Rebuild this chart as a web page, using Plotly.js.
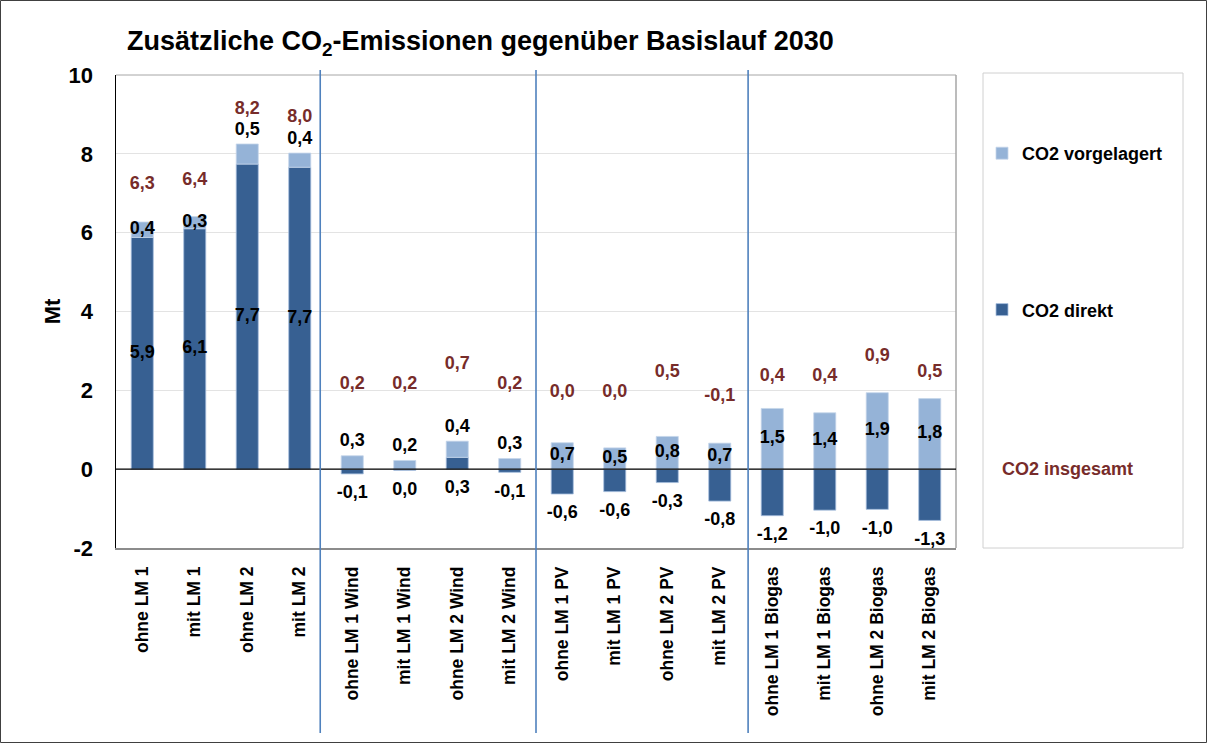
<!DOCTYPE html>
<html>
<head>
<meta charset="utf-8">
<script src="https://cdn.plot.ly/plotly-3.0.1.min.js"></script>
<style>html,body{margin:0;padding:0;background:#fff;}#chart{width:1207px;height:743px;}</style>
</head>
<body>
<div id="chart"></div>
<script>
// ---- data ----
const categories = [
  'ohne LM 1', 'mit LM 1', 'ohne LM 2', 'mit LM 2',
  'ohne LM 1 Wind', 'mit LM 1 Wind', 'ohne LM 2 Wind', 'mit LM 2 Wind',
  'ohne LM 1 PV', 'mit LM 1 PV', 'ohne LM 2 PV', 'mit LM 2 PV',
  'ohne LM 1 Biogas', 'mit LM 1 Biogas', 'ohne LM 2 Biogas', 'mit LM 2 Biogas'
];
const co2Direkt = [5.88, 6.10, 7.74, 7.66, -0.12, -0.03, 0.30, -0.08, -0.63, -0.57, -0.34, -0.81, -1.18, -1.04, -1.02, -1.30];
const co2Vorgelagert = [0.39, 0.31, 0.51, 0.36, 0.34, 0.22, 0.41, 0.27, 0.67, 0.54, 0.83, 0.66, 1.54, 1.43, 1.94, 1.79];
const co2Insgesamt = [6.3, 6.4, 8.2, 8.0, 0.2, 0.2, 0.7, 0.2, 0.0, 0.0, 0.5, -0.1, 0.4, 0.4, 0.9, 0.5];
const yTickValues = [-2, 0, 2, 4, 6, 8, 10];
const seriesNames = ['CO2 direkt', 'CO2 vorgelagert', 'CO2 insgesamt'];

// ---- label placement style (not data) ----
const direktLabelPlace = ['mid','mid','mid','mid','below','below','below','below','below','below','below','below','below','below','below','below'];
const vorgLabelPlace = ['mid','mid','above','above','above','above','above','above','mid','mid','mid','mid','mid','mid','mid','mid'];

const FONT = 'Liberation Sans, Arial, Helvetica, sans-serif';
const C_DIR = '#376092';
const C_VOR = '#95B3D7';
const C_TOT = '#772C2A';

function fmt(v) {
  const r = Math.abs(v) < 0.05 ? 0 : v;
  return r.toFixed(1).replace('.', ',');
}

const direktLabelY = co2Direkt.map((d, i) =>
  direktLabelPlace[i] === 'mid' ? d / 2 : Math.min(d, 0) - 0.5);
const vorgLabelY = co2Vorgelagert.map((v, i) => {
  const base = Math.max(co2Direkt[i], 0);
  return vorgLabelPlace[i] === 'mid' ? base + v / 2 : base + v + 0.35;
});
const totalLabelY = co2Insgesamt.map((t, i) => t + (i < 4 ? 0.92 : 1.95));

const labelFont = {family: FONT, size: 18, color: '#000000', weight: 'bold'};

const traces = [
  {
    type: 'bar', name: seriesNames[0], x: categories, y: co2Direkt,
    marker: {color: C_DIR, line: {color: '#A7BFDE', width: 0.8}},
    legendgroup: 'd', legendrank: 2, hoverinfo: 'skip'
  },
  {
    type: 'bar', name: seriesNames[1], x: categories, y: co2Vorgelagert,
    marker: {color: C_VOR, line: {color: '#C5D5EA', width: 0.8}},
    legendgroup: 'v', legendrank: 1, hoverinfo: 'skip'
  },
  {
    type: 'scatter', mode: 'text', x: categories, y: direktLabelY,
    text: co2Direkt.map(fmt), textposition: 'middle center',
    textfont: labelFont, showlegend: false, hoverinfo: 'skip', cliponaxis: false
  },
  {
    type: 'scatter', mode: 'text', x: categories, y: vorgLabelY,
    text: co2Vorgelagert.map(fmt), textposition: 'middle center',
    textfont: labelFont, showlegend: false, hoverinfo: 'skip', cliponaxis: false
  },
  {
    type: 'scatter', mode: 'text', name: seriesNames[2], x: categories, y: totalLabelY,
    text: co2Insgesamt.map(fmt), textposition: 'middle center',
    textfont: {family: FONT, size: 18, color: C_TOT, weight: 'bold'},
    showlegend: false, hoverinfo: 'skip', cliponaxis: false
  }
];

// geometry helpers for decorations
const L = 116, R = 251, T = 75, B = 195, W = 1207, H = 743;
const pw = W - L - R, ph = H - T - B;
const px2x = p => (p - L) / pw;
const py2y = p => (H - B - p) / ph;

const separators = [3.39, 7.5, 11.54];

const shapes = [
  // plot frame top/right
  {type: 'line', xref: 'paper', yref: 'paper', x0: 0, x1: 1, y0: 1, y1: 1, line: {color: '#A6A6A6', width: 1}},
  {type: 'line', xref: 'paper', yref: 'paper', x0: 1, x1: 1, y0: 0, y1: 1, line: {color: '#A6A6A6', width: 1.5}},
  // zero line
  {type: 'line', xref: 'paper', yref: 'y', x0: 0, x1: 1, y0: 0, y1: 0, line: {color: '#000000', width: 1.2}},
  // legend box
  {type: 'rect', xref: 'paper', yref: 'paper', x0: px2x(983), x1: px2x(1183), y0: py2y(548), y1: py2y(73),
   line: {color: '#D0D0D0', width: 1}, fillcolor: 'rgba(0,0,0,0)'},
  // outer figure border
  {type: 'rect', xref: 'paper', yref: 'paper', x0: px2x(0.5), x1: px2x(1206.5), y0: py2y(742.5), y1: py2y(0.5),
   line: {color: '#404040', width: 1}, fillcolor: 'rgba(0,0,0,0)'}
].concat(separators.map(s => ({
  type: 'line', xref: 'x', yref: 'paper', x0: s, x1: s, y0: py2y(733), y1: py2y(70),
  line: {color: '#4F81BD', width: 1.6}
})));

const layout = {
  width: W, height: H,
  margin: {l: L, r: R, t: T, b: B, pad: 0},
  paper_bgcolor: '#ffffff', plot_bgcolor: '#ffffff',
  barmode: 'relative', bargap: 0.58,
  font: {family: FONT, color: '#000000'},
  title: {
    text: 'Zusätzliche CO<sub>2</sub>-Emissionen gegenüber Basislauf 2030',
    font: {family: FONT, size: 27, color: '#000000', weight: 'bold'},
    x: 127 / W, xanchor: 'left', xref: 'container',
    y: 1 - 41 / H, yanchor: 'middle', yref: 'container'
  },
  xaxis: {
    type: 'category', range: [-0.5, categories.length - 0.5], tickangle: -90,
    tickfont: {family: FONT, size: 17.5, color: '#000000', weight: 'bold'},
    showgrid: false, zeroline: false, showline: true, linecolor: '#8C8C8C', linewidth: 1.5,
    ticks: '', ticklabelstandoff: 10, fixedrange: true
  },
  yaxis: {
    range: [-2, 10], tickvals: yTickValues, ticktext: yTickValues.map(String),
    tickfont: {family: FONT, size: 22, color: '#000000', weight: 'bold'},
    showgrid: true, gridcolor: '#E3E3E3', gridwidth: 1,
    zeroline: false, showline: true, linecolor: '#000000', linewidth: 1.5,
    ticks: '', ticklabelstandoff: 17,
    title: {text: 'Mt', font: {family: FONT, size: 22, color: '#000000', weight: 'bold'}, standoff: 2},
    fixedrange: true
  },
  showlegend: true,
  legend: {
    x: px2x(982), xanchor: 'left', y: py2y(135), yanchor: 'top',
    traceorder: 'grouped', tracegroupgap: 130,
    font: {family: FONT, size: 18, color: '#000000', weight: 'bold'},
    bgcolor: 'rgba(0,0,0,0)', borderwidth: 0, itemwidth: 30
  },
  annotations: [
    {xref: 'paper', yref: 'paper', x: px2x(1067), y: py2y(469), xanchor: 'center', yanchor: 'middle',
     text: seriesNames[2], showarrow: false,
     font: {family: FONT, size: 18, color: C_TOT, weight: 'bold'}}
  ],
  shapes: shapes
};

Plotly.newPlot('chart', traces, layout, {displayModeBar: false, staticPlot: true});
</script>
</body>
</html>
